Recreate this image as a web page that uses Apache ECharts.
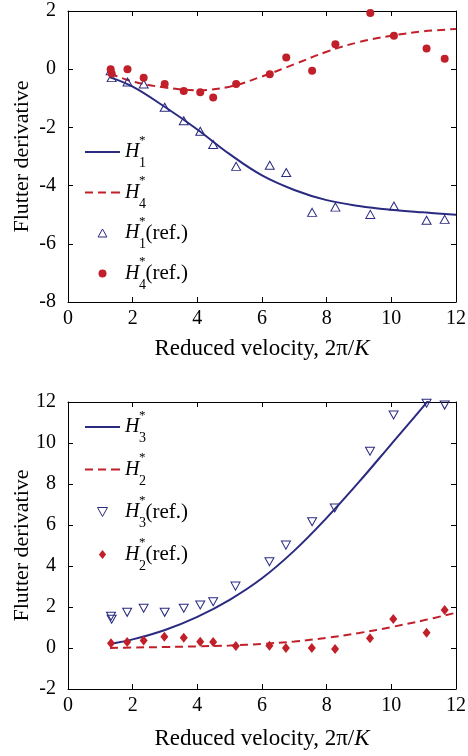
<!DOCTYPE html>
<html>
<head>
<meta charset="utf-8">
<script src="https://cdn.jsdelivr.net/npm/echarts@6/dist/echarts.min.js"></script>
<style>
html,body{margin:0;padding:0;background:#fff;}
#chart{width:468px;height:756px;}
</style>
</head>
<body>
<div id="chart"></div>
<script>
// ---- Data ----
// Top panel
var refXTop = [1.32, 1.35, 1.84, 2.34, 2.99, 3.58, 4.09, 4.49, 5.20, 6.24, 6.75, 7.55, 8.27, 9.35, 10.08, 11.09, 11.65];
var h1RefY  = [-0.05, -0.29, -0.44, -0.51, -1.31, -1.77, -2.13, -2.59, -3.34, -3.30, -3.55, -4.92, -4.74, -4.99, -4.70, -5.19, -5.16];
var h4RefY  = [0.0, -0.15, 0.0, -0.29, -0.51, -0.75, -0.79, -0.97, -0.51, -0.17, 0.40, -0.05, 0.86, 1.93, 1.15, 0.71, 0.36];
var curveXTop = [1.3, 2, 3, 4, 5, 6, 7, 8, 9, 10, 11, 12];
var h1Curve   = [-0.28, -0.6, -1.3, -2.07, -2.92, -3.65, -4.15, -4.5, -4.7, -4.83, -4.92, -5.0];
var h4Curve   = [-0.15, -0.42, -0.63, -0.72, -0.6, -0.25, 0.17, 0.6, 0.93, 1.15, 1.3, 1.38];

// Bottom panel
var refXH3 = [1.33, 1.35, 1.83, 2.34, 2.99, 3.58, 4.09, 4.49, 5.18, 6.23, 6.74, 7.55, 8.25, 9.34, 10.07, 11.09, 11.65];
var h3RefY = [1.55, 1.40, 1.74, 1.94, 1.74, 1.94, 2.10, 2.26, 3.02, 4.21, 5.02, 6.16, 6.83, 9.6, 11.37, 11.94, 11.85];
var refXH2 = [1.33, 1.83, 2.34, 2.98, 3.58, 4.09, 4.49, 5.19, 6.23, 6.74, 7.54, 8.26, 9.34, 10.06, 11.09, 11.65];
var h2RefY = [0.23, 0.29, 0.37, 0.55, 0.50, 0.31, 0.29, 0.10, 0.11, 0.0, 0.0, -0.05, 0.47, 1.41, 0.75, 1.85];
var curveXBot = [1.3, 2, 3, 4, 5, 6, 7, 8, 9, 10, 11, 12];
var h3Curve   = [0.2, 0.42, 0.88, 1.52, 2.35, 3.4, 4.75, 6.35, 8.1, 9.95, 11.8, 13.7];
var h2Curve   = [0.0, 0.02, 0.05, 0.08, 0.12, 0.2, 0.32, 0.5, 0.73, 1.02, 1.35, 1.72];

// Axis ranges / ticks
var xRange = [0, 12, 2];
var yRangeTop = [-8, 2, 2];
var yRangeBot = [-2, 12, 2];

// ---- Build ----
function pairs(xs, ys){ return xs.map(function(x,i){ return [x, ys[i]]; }); }

var NAVY = '#2a2a80', RED = '#c1202a', FONT = 'Liberation Serif';
var UP_TRI = 'path://M5,0 L10,9 L0,9 Z';
var DOWN_TRI = 'path://M0,0 L10,0 L5,9 Z';
var DIAMOND = 'path://M4,0 L8,5 L4,10 L0,5 Z';
var LINE_ICON = 'path://M0,0 L35,0 L35,2 L0,2 Z';
var DASH_ICON = 'path://M0,0 h8 v2 h-8 Z M13,0 h8 v2 h-8 Z M26,0 h8 v2 h-8 Z M34,0 h1 v2 h-1 Z';

function xAx(gi, pos, showLabel, nameGap){
  return {
    type:'value', gridIndex:gi, position:pos, min:xRange[0], max:xRange[1], interval:xRange[2],
    axisLine:{show:true, onZero:false, lineStyle:{color:'#000', width:1}},
    axisTick:{show:true, inside:true, length:5, lineStyle:{color:'#000'}},
    axisLabel:{show:showLabel, color:'#000', fontFamily:FONT, fontSize:20, margin:7},
    splitLine:{show:false},
    name: showLabel ? 'Reduced velocity, 2\u03c0/{i|K}' : '',
    nameLocation:'middle', nameGap:nameGap, nameMoveOverlap:false,
    nameTextStyle:{color:'#000', fontFamily:FONT, fontSize:23, rich:{i:{fontStyle:'italic', fontFamily:FONT, fontSize:23, color:'#000'}}}
  };
}
function yAx(gi, pos, showLabel, r){
  return {
    type:'value', gridIndex:gi, position:pos, min:r[0], max:r[1], interval:r[2],
    axisLine:{show:true, onZero:false, lineStyle:{color:'#000', width:1}},
    axisTick:{show:true, inside:true, length:5, lineStyle:{color:'#000'}},
    axisLabel:{show:showLabel, color:'#000', fontFamily:FONT, fontSize:20, margin:12},
    splitLine:{show:false},
    name: showLabel ? 'Flutter derivative' : '',
    nameLocation:'middle', nameGap:35, nameRotate:90, nameMoveOverlap:false,
    nameTextStyle:{color:'#000', fontFamily:FONT, fontSize:22}
  };
}

var legendNames = {
  'H1':    '{sp| }{st|*}\n{h|H}\n{sp| }{sb|1}',
  'H4':    '{sp| }{st|*}\n{h|H}\n{sp| }{sb|4}',
  'H1ref': '{sp| }{st|*}\n{h|H}{g| }{r|(ref.)}\n{sp| }{sb|1}',
  'H4ref': '{sp| }{st|*}\n{h|H}{g| }{r|(ref.)}\n{sp| }{sb|4}',
  'H3':    '{sp| }{st|*}\n{h|H}\n{sp| }{sb|3}',
  'H2':    '{sp| }{st|*}\n{h|H}\n{sp| }{sb|2}',
  'H3ref': '{sp| }{st|*}\n{h|H}{g| }{r|(ref.)}\n{sp| }{sb|3}',
  'H2ref': '{sp| }{st|*}\n{h|H}{g| }{r|(ref.)}\n{sp| }{sb|2}'
};
var richLegend = {
  sp:{width:14, fontSize:13, lineHeight:9},
  st:{fontSize:13, fontFamily:FONT, color:'#000', lineHeight:9},
  h:{fontSize:20, fontStyle:'italic', fontFamily:FONT, color:'#000', lineHeight:14},
  g:{width:6, fontSize:13, lineHeight:14},
  r:{fontSize:21, fontFamily:FONT, color:'#000', lineHeight:14},
  sb:{fontSize:14, fontFamily:FONT, color:'#000', lineHeight:9}
};
function legend(items, top, gap, ih){
  return {
    data: items, orient:'vertical', left:80, top:top, itemGap:gap,
    itemWidth:35, itemHeight:ih,
    formatter:function(n){ return legendNames[n]; },
    textStyle:{rich:richLegend, fontFamily:FONT, color:'#000'},
    selectedMode:false
  };
}
var hollowLegendStyle = {borderWidth:1, borderColor:NAVY, color:'rgba(255,255,255,0)'};

var option = {
  animation:false,
  backgroundColor:'#fff',
  grid:[
    {left:68, top:11, width:388, height:291, containLabel:false, outerBoundsMode:'none'},
    {left:68, top:402, width:388, height:287, containLabel:false, outerBoundsMode:'none'}
  ],
  xAxis:[ xAx(0,'bottom',true,35), xAx(0,'top',false,0), xAx(1,'bottom',true,38), xAx(1,'top',false,0) ],
  yAxis:[ yAx(0,'left',true,yRangeTop), yAx(0,'right',false,yRangeTop), yAx(1,'left',true,yRangeBot), yAx(1,'right',false,yRangeBot) ],
  legend:[
    legend([{name:'H1', icon:LINE_ICON},{name:'H4', icon:DASH_ICON},{name:'H1ref', icon:UP_TRI, itemStyle:hollowLegendStyle},{name:'H4ref', icon:'circle'}], 129, 4, 8),
    legend([{name:'H3', icon:LINE_ICON},{name:'H2', icon:DASH_ICON},{name:'H3ref', icon:DOWN_TRI, itemStyle:hollowLegendStyle},{name:'H2ref', icon:DIAMOND}], 404, 6, 9)
  ],
  series:[
    {name:'H1', type:'line', xAxisIndex:0, yAxisIndex:0, data:pairs(curveXTop,h1Curve), smooth:0.4, symbol:'none', lineStyle:{color:NAVY, width:2}, itemStyle:{color:NAVY}, z:3},
    {name:'H4', type:'line', xAxisIndex:0, yAxisIndex:0, data:pairs(curveXTop,h4Curve), smooth:0.4, symbol:'none', lineStyle:{color:RED, width:2, type:[8,5]}, itemStyle:{color:RED}, z:3},
    {name:'H1ref', type:'scatter', xAxisIndex:0, yAxisIndex:0, data:pairs(refXTop,h1RefY), symbol:UP_TRI, symbolSize:[9,8], itemStyle:{color:'rgba(255,255,255,0)', borderColor:NAVY, borderWidth:1, opacity:1}, z:4},
    {name:'H4ref', type:'scatter', xAxisIndex:0, yAxisIndex:0, data:pairs(refXTop,h4RefY), symbol:'circle', symbolSize:8, itemStyle:{color:RED, opacity:1}, z:4},
    {name:'H3', type:'line', xAxisIndex:2, yAxisIndex:2, data:pairs(curveXBot,h3Curve), smooth:0.4, symbol:'none', lineStyle:{color:NAVY, width:2}, itemStyle:{color:NAVY}, z:3},
    {name:'H2', type:'line', xAxisIndex:2, yAxisIndex:2, data:pairs(curveXBot,h2Curve), smooth:0.4, symbol:'none', lineStyle:{color:RED, width:2, type:[8,5]}, itemStyle:{color:RED}, z:3},
    {name:'H3ref', type:'scatter', xAxisIndex:2, yAxisIndex:2, data:pairs(refXH3,h3RefY), symbol:DOWN_TRI, symbolSize:[9,8], itemStyle:{color:'rgba(255,255,255,0)', borderColor:NAVY, borderWidth:1, opacity:1}, z:4},
    {name:'H2ref', type:'scatter', xAxisIndex:2, yAxisIndex:2, data:pairs(refXH2,h2RefY), symbol:DIAMOND, symbolSize:[8,10], itemStyle:{color:RED, opacity:1}, z:4}
  ]
};
var chart = echarts.init(document.getElementById('chart'), null, {renderer:'canvas'});
chart.setOption(option);
</script>
</body>
</html>
